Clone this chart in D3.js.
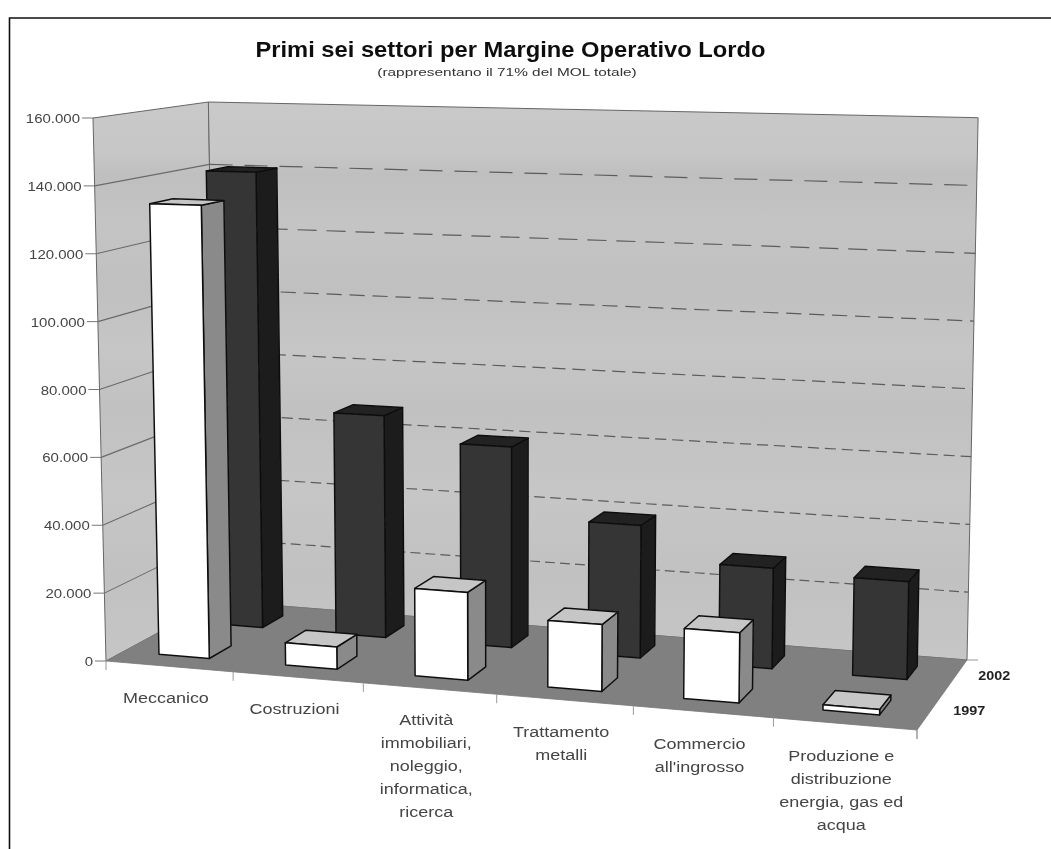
<!DOCTYPE html>
<html><head><meta charset="utf-8">
<script src="https://cdn.jsdelivr.net/npm/d3@7"></script>
<style>html,body{margin:0;padding:0;background:#fff;overflow:hidden}svg{display:block}text{font-family:"Liberation Sans",Arial,sans-serif}</style>
</head><body><svg id="c" width="1051" height="849"></svg>
<script>
const categories = [
  ["Meccanico"],
  ["Costruzioni"],
  ["Attività","immobiliari,","noleggio,","informatica,","ricerca"],
  ["Trattamento","metalli"],
  ["Commercio","all'ingrosso"],
  ["Produzione e","distribuzione","energia, gas ed","acqua"]
];
const seriesNames = ["1997","2002"];
const values1997 = [134000, 6500, 25300, 19000, 19700, 1500];
const values2002 = [140500, 67500, 60200, 39200, 29300, 28200];
const yTicks = [0,20000,40000,60000,80000,100000,120000,140000,160000];
const titleText = "Primi sei settori per Margine Operativo Lordo";
const subtitleText = "(rappresentano il 71% del MOL totale)";

// Floor corners of the 3D box
const floorQuad = [[106,661],[917,730],[967,660],[217,601]];

function homography(q){
  const [[x0,y0],[x1,y1],[x2,y2],[x3,y3]] = q;
  const dx1=x1-x2, dx2=x3-x2, sx=x0-x1+x2-x3, dy1=y1-y2, dy2=y3-y2, sy=y0-y1+y2-y3;
  const den=dx1*dy2-dx2*dy1;
  const g=(sx*dy2-dx2*sy)/den, h=(dx1*sy-sx*dy1)/den;
  const a=x1-x0+g*x1, b=x3-x0+h*x3, c=x0, d=y1-y0+g*y1, e=y3-y0+h*y3, f=y0;
  return (u,v)=>{const w=g*u+h*v+1;return [(a*u+b*v+c)/w,(d*u+e*v+f)/w];};
}
const Hf=homography(floorQuad);

const catKeys = categories.map(c=>c.join(" "));
const xScale = d3.scaleBand().domain(catKeys).range([-0.003,0.997]).paddingInner(0.6).paddingOuter(0.3);
const zScale = d3.scaleBand().domain(seriesNames).range([0,1]).paddingInner(0.6).paddingOuter(0.3);
const yScale = d3.scaleLinear().domain([0,160000]).range([0,1]);
// full wall height on screen grows with floor y; verticals lean away from x=500
const heightAt = d3.scaleLinear().domain([601,661,730]).range([499,543,588.5]);
const leanAt = d3.scaleLinear().domain([106,500,967]).range([-0.0239,0,0.0205]);
function P(u,d,val){
  const a=Hf(u,d), h=heightAt(a[1])*yScale(val);
  return [a[0]+leanAt(a[0])*h, a[1]-h];
}
const poly=pts=>pts.map(p=>p[0].toFixed(1)+","+p[1].toFixed(1)).join(" ");

const svg=d3.select("#c");
const defs=svg.append("defs");
defs.append("filter").attr("id","soft").attr("x",0).attr("y",0).attr("width",1).attr("height",1)
  .append("feGaussianBlur").attr("stdDeviation",0.55);
const bands=[[0,"#c9c9c9"],[0.09,"#c7c7c7"],[0.13,"#bfbfbf"],[0.22,"#c4c4c4"],[0.34,"#c0c0c0"],[0.44,"#c6c6c6"],[0.55,"#c1c1c1"],[0.7,"#c6c6c6"],[0.85,"#c1c1c1"],[1,"#c6c6c6"]];
const g1=defs.append("linearGradient").attr("id","wall").attr("gradientUnits","userSpaceOnUse").attr("x1",0).attr("y1",102).attr("x2",0).attr("y2",660);
bands.forEach(b=>g1.append("stop").attr("offset",b[0]).attr("stop-color",b[1]));

const root=svg.append("g").attr("filter","url(#soft)");
root.append("rect").attr("width",1051).attr("height",849).attr("fill","#fff");

// frame
root.append("path").attr("d","M1051,18H9.5V849").attr("fill","none").attr("stroke","#111").attr("stroke-width",1.6);

// walls
root.append("polygon").attr("points",poly([P(0,0,0),P(0,1,0),P(0,1,160000),P(0,0,160000)])).attr("fill","url(#wall)").attr("stroke","#666").attr("stroke-width",1);
root.append("polygon").attr("points",poly([P(0,1,0),P(1,1,0),P(1,1,160000),P(0,1,160000)])).attr("fill","url(#wall)").attr("stroke","#666").attr("stroke-width",1);
// floor
root.append("polygon").attr("points",poly([P(0,0,0),P(1,0,0),P(1,1,0),P(0,1,0)])).attr("fill","#808080").attr("stroke","#777").attr("stroke-width",0.8);

// gridlines: the dash pattern tightens toward the floor
const dashAt = d3.scaleLinear().domain([20000,60000,100000,140000]).range([15,17,23,35]);
yTicks.filter(v=>v>0&&v<160000).forEach(v=>{
  const a=P(0,0,v),b=P(0,1,v),c=P(1,1,v);
  root.append("line").attr("x1",a[0]).attr("y1",a[1]).attr("x2",b[0]).attr("y2",b[1]).attr("stroke","#6a6a6a").attr("stroke-width",1.1);
  const p=dashAt(v);
  root.append("line").attr("x1",b[0]).attr("y1",b[1]).attr("x2",c[0]).attr("y2",c[1]).attr("stroke","#5c5c5c").attr("stroke-width",1.2).attr("stroke-dasharray",`${(p*0.66).toFixed(1)},${(p*0.34).toFixed(1)}`);
});

// tick marks + y labels
const fmt=d3.formatLocale({decimal:",",thousands:".",grouping:[3],currency:["",""]}).format(",d");
function stretched(parent,x,y,str,size,weight,fill,sx){
  parent.append("text").attr("transform",`translate(${x},${y}) scale(${sx||1.2},1)`).attr("text-anchor","middle")
    .attr("font-size",size).attr("font-weight",weight).attr("fill",fill).text(str);
}
yTicks.forEach(v=>{
  const a=P(0,0,v);
  root.append("line").attr("x1",a[0]-11).attr("y1",a[1]).attr("x2",a[0]).attr("y2",a[1]).attr("stroke","#777").attr("stroke-width",1);
  root.append("text").attr("transform",`translate(${a[0]-13},${a[1]+5}) scale(1.2,1)`).attr("text-anchor","end")
    .attr("font-size",12.5).attr("fill","#444").text(fmt(v));
});

// category ticks + labels
d3.range(categories.length+1).forEach(i=>{
  const a=P(i/categories.length,0,0);
  root.append("line").attr("x1",a[0]).attr("y1",a[1]).attr("x2",a[0]).attr("y2",a[1]+9).attr("stroke","#999").attr("stroke-width",1);
});
categories.forEach((lines,i)=>{
  const k=catKeys[i], a=P(xScale(k)+xScale.bandwidth()/2,0,0);
  lines.forEach((t,j)=>stretched(root,a[0]-1,a[1]+37+j*23,t,15,"normal","#444"));
});

// depth axis
seriesNames.forEach(s=>{
  const a=P(1,zScale(s)+zScale.bandwidth()/2,0);
  stretched(root,a[0]+39,a[1]+4,s,12,"bold","#222");
});
[0,1].forEach(d=>{
  const a=P(1,d,0);
  root.append("line").attr("x1",a[0]).attr("y1",a[1]).attr("x2",a[0]+(d?11:0)).attr("y2",a[1]+(d?0:9)).attr("stroke","#999").attr("stroke-width",1);
});

// bars
function bar(k,s,v,cols){
  const u0=xScale(k),u1=u0+xScale.bandwidth(),d0=zScale(s),d1=d0+zScale.bandwidth();
  const g=root.append("g").attr("stroke","#111").attr("stroke-width",1.5).attr("stroke-linejoin","round");
  g.append("polygon").attr("points",poly([P(u1,d0,0),P(u1,d1,0),P(u1,d1,v),P(u1,d0,v)])).attr("fill",cols.side);
  g.append("polygon").attr("points",poly([P(u0,d0,v),P(u1,d0,v),P(u1,d1,v),P(u0,d1,v)])).attr("fill",cols.top);
  g.append("polygon").attr("points",poly([P(u0,d0,0),P(u1,d0,0),P(u1,d0,v),P(u0,d0,v)])).attr("fill",cols.front);
}
catKeys.forEach((k,i)=>bar(k,"2002",values2002[i],{front:"#353535",side:"#1c1c1c",top:"#232323"}));
catKeys.forEach((k,i)=>bar(k,"1997",values1997[i],{front:"#ffffff",side:"#8a8a8a",top:"#c6c6c6"}));

// title
stretched(root,510.5,57,titleText,22.5,"bold","#111",1.055);
stretched(root,507,76,subtitleText,11.5,"normal","#333",1.34);
</script></body></html>
